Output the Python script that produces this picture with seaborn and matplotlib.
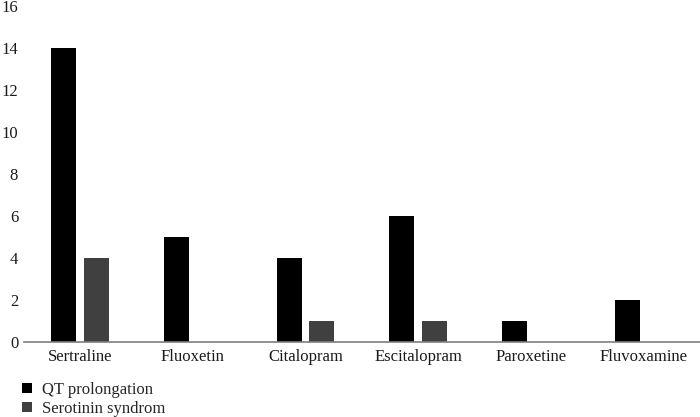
import pandas as pd
import matplotlib.pyplot as plt
import seaborn as sns

# -----------------------------
# Data
# -----------------------------

drugs = ["Sertraline", "Fluoxetin", "Citalopram", "Escitalopram", "Paroxetine", "Fluvoxamine"]
qt_prolongation = [14, 5, 4, 6, 1, 2]
serotonin_syndrome = [4, 0, 1, 1, 0, 0]
series_names = ["QT prolongation", "Serotinin syndrom"]

data = pd.DataFrame({
    "Drug": drugs * 2,
    "Cases": qt_prolongation + serotonin_syndrome,
    "Effect": [series_names[0]] * len(drugs) + [series_names[1]] * len(drugs),
})

# -----------------------------
# Plot
# -----------------------------

sns.set_style("white")
plt.rcParams["font.family"] = ["Liberation Serif", "DejaVu Serif"]

fig = plt.figure(figsize=(7, 4.17), dpi=100)
ax = fig.add_axes([0.034, 0.18, 0.966, 0.805])

sns.barplot(
    data=data,
    x="Drug",
    y="Cases",
    hue="Effect",
    palette=["#000000", "#404040"],
    width=0.58,
    gap=0.24,
    linewidth=0,
    ax=ax,
)

ax.set_ylim(0, 16)
ax.set_yticks(range(0, 17, 2))
ax.set_xlim(-0.5, len(drugs) - 0.5)
ax.set_xlabel("")
ax.set_ylabel("")
ax.tick_params(axis="both", length=0, labelsize=12, colors="#1a1a1a")
ax.tick_params(axis="y", pad=4)
ax.tick_params(axis="x", pad=5)

for side in ["top", "right", "left"]:
    ax.spines[side].set_visible(False)
ax.spines["bottom"].set_color("#7f7f7f")
ax.spines["bottom"].set_linewidth(1.2)

handles, labels = ax.get_legend_handles_labels()
ax.legend(
    handles,
    labels,
    loc="upper left",
    bbox_to_anchor=(0.02, 0.105),
    bbox_transform=fig.transFigure,
    frameon=False,
    fontsize=12,
    handlelength=0.55,
    handleheight=0.55,
    handletextpad=0.6,
    labelspacing=0.2,
    borderpad=0,
)

plt.savefig("out.png", dpi=100)
plt.close()
